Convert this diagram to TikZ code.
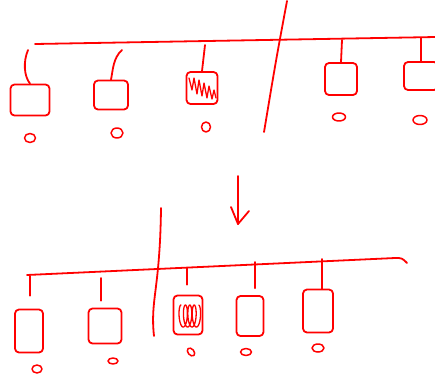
\documentclass[tikz,border=0pt]{standalone}
\usetikzlibrary{shapes.geometric}
\begin{document}
\begin{tikzpicture}[x=1pt,y=-1pt,
  ink/.style={draw=red,line width=1.8pt,line cap=round,line join=round},
  dev/.style={ink,rounded corners=4pt,inner sep=0pt},
  port/.style={ink,ellipse,inner sep=0pt,line width=1.5pt},
  hatch/.style={ink,line width=1.3pt}]
\useasboundingbox (0,0) rectangle (435,378);
% ---------- top diagram ----------
\coordinate (tbL) at (35,44);
\coordinate (tbR) at (436,37);
\draw[ink] (tbL) -- (tbR);
\coordinate (tdT) at (287,1);
\coordinate (tdB) at (264,132);
\draw[ink] (tdT) .. controls (276,60) .. (tdB);
\node[dev,minimum width=39,minimum height=31] (t1) at (30,100) {};
\node[dev,minimum width=34,minimum height=29] (t2) at (111,95) {};
\node[dev,minimum width=31,minimum height=32] (t3) at (202,88) {};
\node[dev,minimum width=32,minimum height=32] (t4) at (341,79) {};
\node[dev,minimum width=34,minimum height=28] (t5) at (421,76) {};
\node[port,minimum width=11,minimum height=9] (tc1) at (30,138) {};
\node[port,minimum width=12,minimum height=10] (tc2) at (117,133) {};
\node[port,minimum width=9,minimum height=10] (tc3) at (206,127) {};
\node[port,minimum width=13,minimum height=8] (tc4) at (339,117) {};
\node[port,minimum width=14,minimum height=9] (tc5) at (420,120) {};
\coordinate (tp1) at (28,50);
\coordinate (tp2) at (122,50);
\coordinate (tp3) at (205,45);
\coordinate (tp4) at (342,40);
\coordinate (tp5) at (421,38);
\draw[ink] (tp1) .. controls (23,62) and (24,76) .. (t1.north);
\draw[ink] (tp2) .. controls (113,58) and (113,70) .. (t2.north);
\draw[ink] (tp3) -- (t3.north);
\draw[ink] (tp4) -- (t4.north);
\draw[ink] (tp5) -- (t5.north);
\draw[hatch] (189,78) -- (192,90) -- (194,78) -- (197,94) -- (199,80) -- (202,96) -- (204,83) -- (207,98) -- (209,86) -- (212,99) -- (214,90) -- (216,98);
% ---------- arrow ----------
\coordinate (a1) at (238,176);
\coordinate (a2) at (238,224);
\draw[ink] (a1) -- (a2);
\draw[ink] (231,207) -- (a2) -- (249,211);
% ---------- bottom diagram ----------
\coordinate (bbL) at (27,275);
\coordinate (bbR) at (407,263);
\draw[ink] (bbL) -- (395,258) .. controls (402,258) .. (bbR);
\coordinate (bdT) at (161,208);
\coordinate (bdB) at (154,336);
\draw[ink] (bdT) .. controls (160,290) and (150,300) .. (bdB);
\node[dev,minimum width=28,minimum height=43] (bA) at (29,331) {};
\node[dev,minimum width=33,minimum height=35] (bB) at (105,326) {};
\node[dev,minimum width=29,minimum height=39] (bC) at (188,315) {};
\node[dev,minimum width=27,minimum height=40] (bD) at (250,316) {};
\node[dev,minimum width=30,minimum height=43] (bE) at (318,311) {};
\node[port,minimum width=10,minimum height=8] (bc1) at (37,369) {};
\node[port,minimum width=10,minimum height=6] (bc2) at (113,361) {};
\node[port,minimum width=6,minimum height=9,rotate=40] (bc3) at (191,352) {};
\node[port,minimum width=11,minimum height=7] (bc4) at (246,352) {};
\node[port,minimum width=12,minimum height=8] (bc5) at (318,348) {};
\coordinate (bp1) at (30,276);
\coordinate (bp2) at (101,278);
\coordinate (bp3) at (187,268);
\coordinate (bp4) at (255,262);
\coordinate (bp5) at (322,259);
\draw[ink,shorten >=13pt] (bp1) -- (bA.north -| bp1);
\draw[ink,shorten >=7pt] (bp2) -- (bB.north -| bp2);
\draw[ink] (bp3) -- ([yshift=10pt]bC.north -| bp3);
\draw[ink,shorten >=7pt] (bp4) -- (bD.north -| bp4);
\draw[ink] (bp5) -- (bE.north -| bp5);
\draw[hatch] plot[domain=0:25,samples=200,smooth] ({181+0.7*\x-3*sin(\x r)},{316-11*cos(\x r)});
\end{tikzpicture}
\end{document}
